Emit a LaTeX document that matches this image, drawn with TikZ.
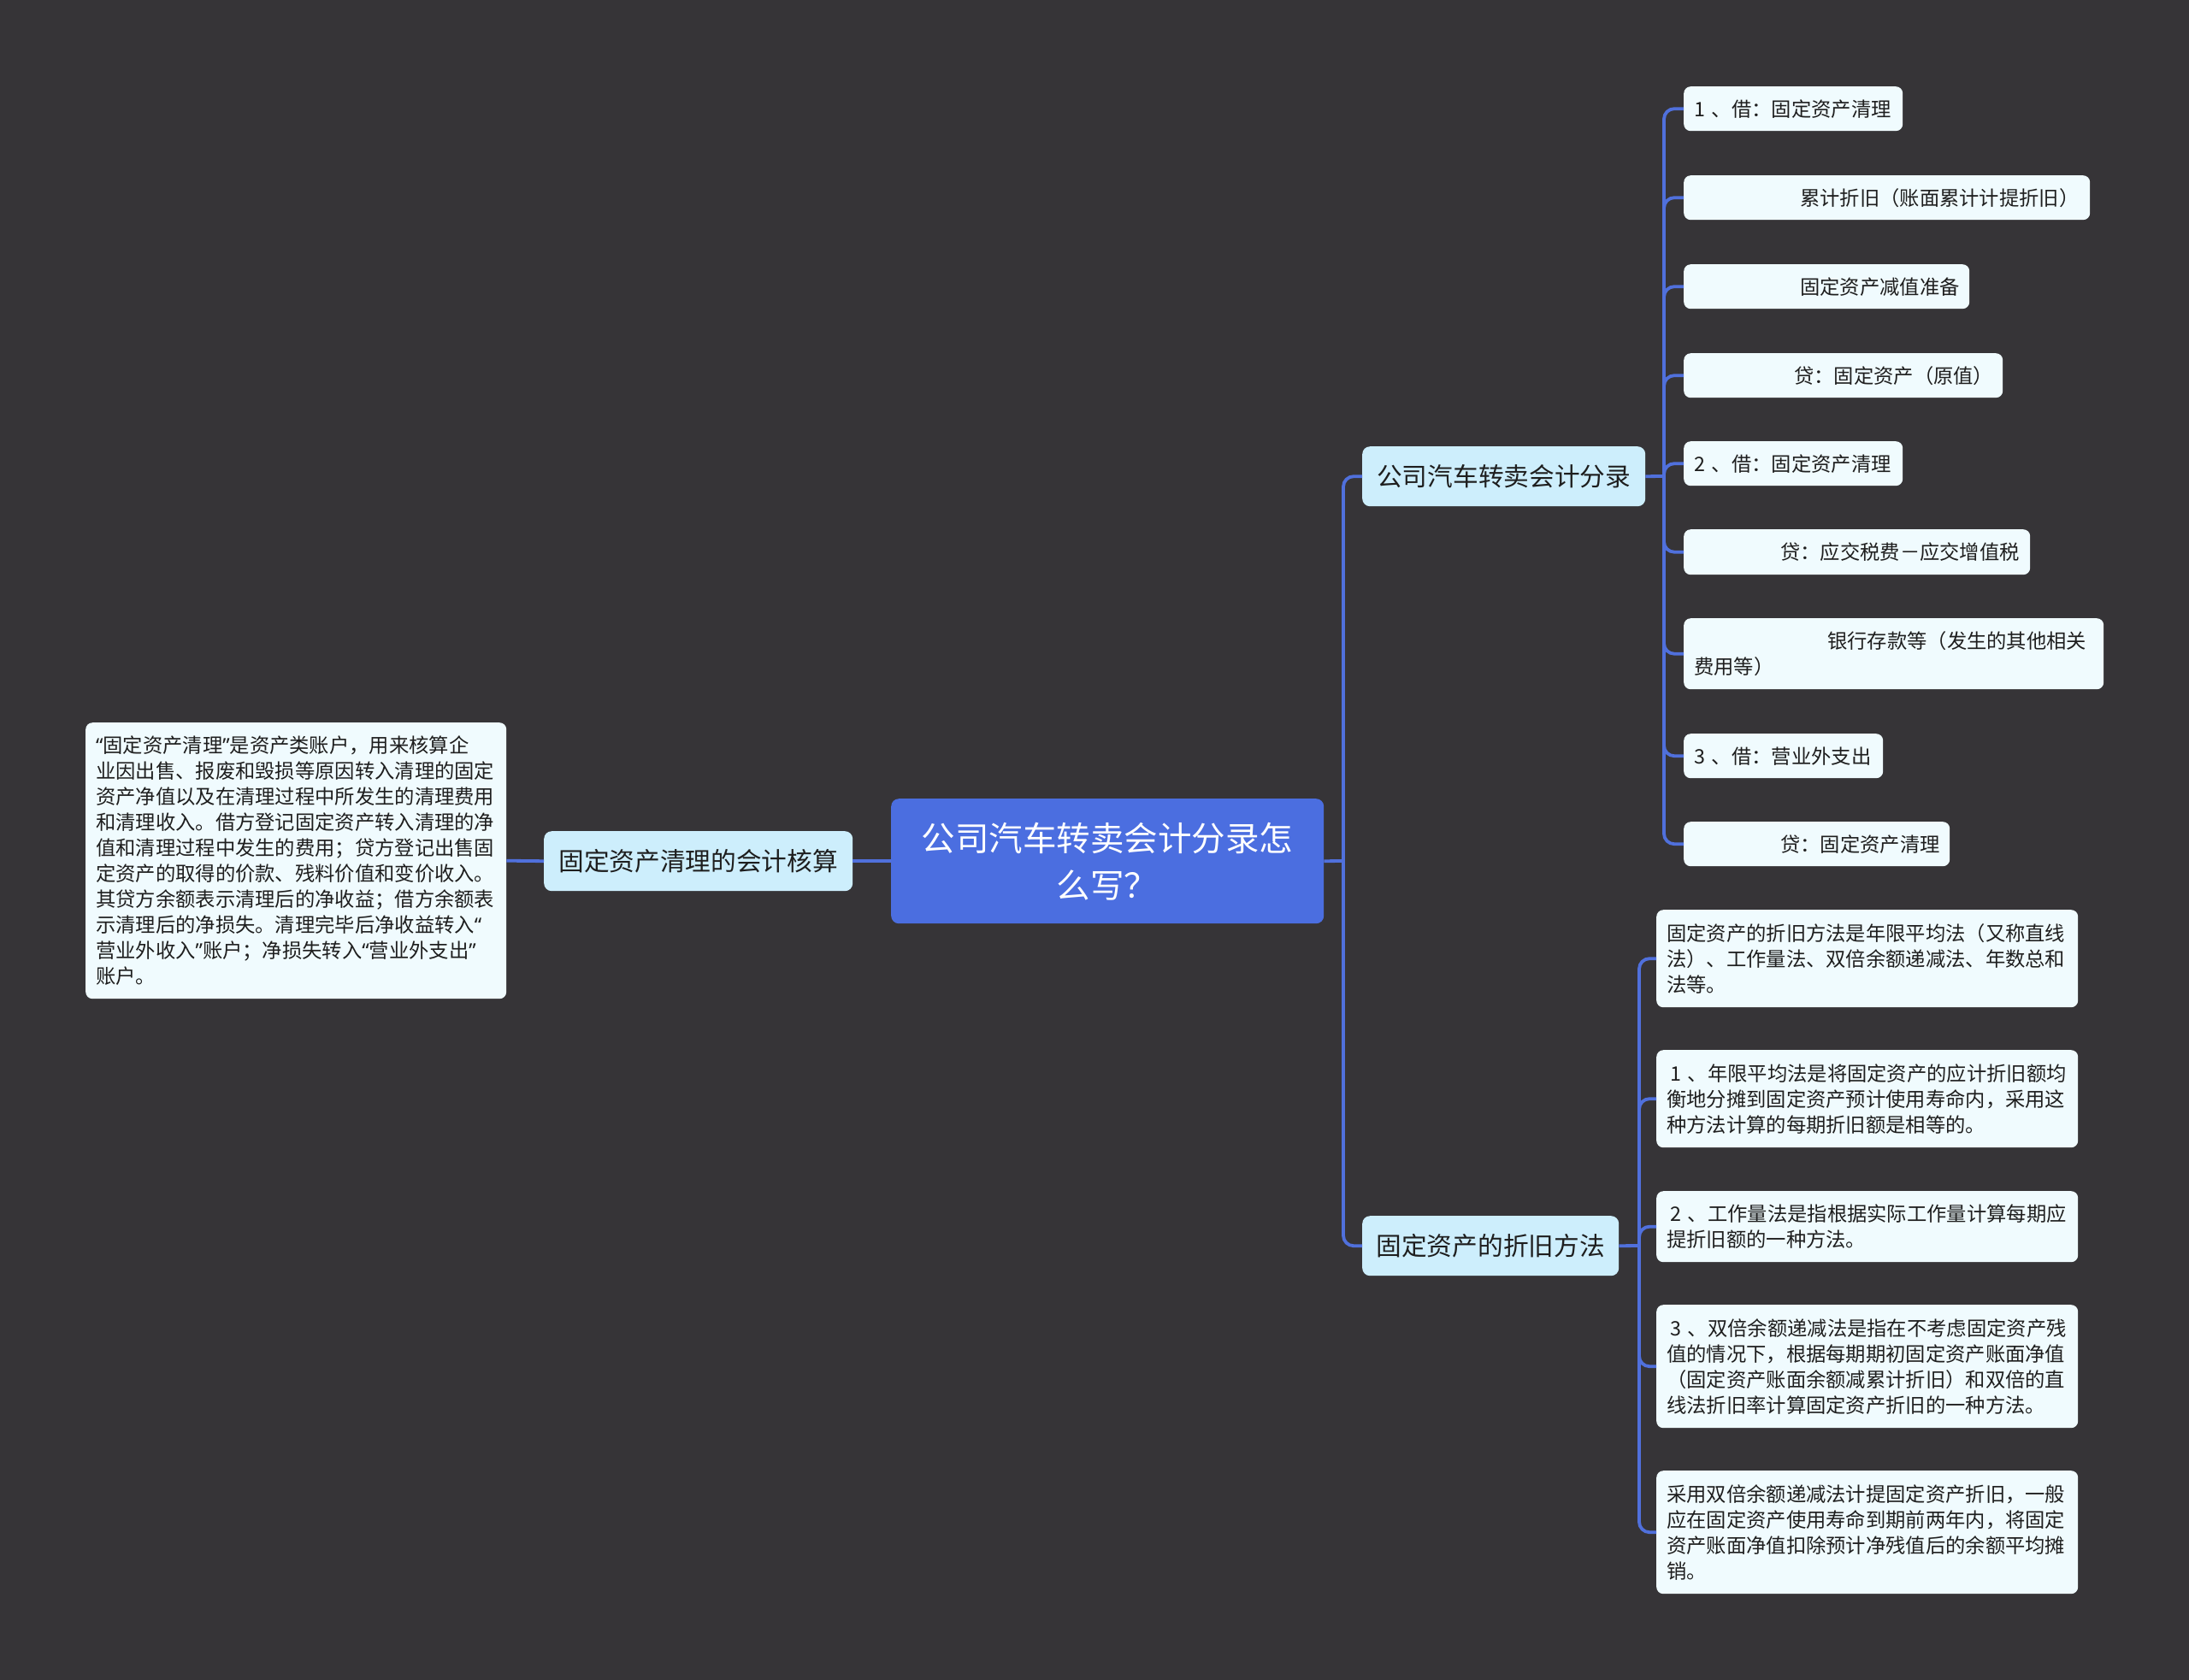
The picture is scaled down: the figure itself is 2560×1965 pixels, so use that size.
\documentclass[tikz,border=0pt]{standalone}
\usepackage{fontspec}
\newfontfamily\cjk{Noto Sans CJK SC}
\newfontfamily\lat{Noto Sans}
\newcommand{\qopen}{{\lat “}}
\newcommand{\qclose}{{\lat ”}}
\definecolor{bgc}{HTML}{363437}
\definecolor{rootc}{HTML}{4B6EE0}
\definecolor{branchc}{HTML}{CDEEFC}
\definecolor{leafc}{HTML}{F0FBFE}
\definecolor{linec}{HTML}{5070DC}
\definecolor{textc}{HTML}{1E1E1E}
\tikzset{
  conn/.style={draw=linec, line width=3.8pt},
  elbow/.style={conn, rounded corners=12pt},
  rootbox/.style={fill=rootc, rounded corners=9pt, text=white, align=center, inner sep=0pt,
    font=\cjk\fontsize{39.5}{55}\selectfont},
  branchbox/.style={fill=branchc, rounded corners=9pt, text=textc, inner sep=0pt,
    font=\cjk\fontsize{29.7}{36}\selectfont},
  leafbox/.style={fill=leafc, rounded corners=8pt, text=textc, align=left, inner xsep=12pt, inner ysep=0pt,
    anchor=north west, font=\cjk\fontsize{23.3}{30}\selectfont},
}
\begin{document}
\begin{tikzpicture}[x=1pt, y=-1pt]
\useasboundingbox (0,0) rectangle (2560,1965);
\fill[bgc] (0,0) rectangle (2560,1965);

% root
\node[rootbox, anchor=north west, minimum width=506pt, minimum height=146pt] (root) at (1042,934)
  {公司汽车转卖会计分录怎\\么写？};

% branches
\node[branchbox, anchor=north west, minimum width=331pt, minimum height=70pt] (b1) at (1593,522) {公司汽车转卖会计分录};
\node[branchbox, anchor=north west, minimum width=300pt, minimum height=70pt] (b2) at (1593,1422) {固定资产的折旧方法};
\node[branchbox, anchor=north west, minimum width=361pt, minimum height=70pt] (b3) at (636,972) {固定资产清理的会计核算};

% left leaf
\node[leafbox, minimum width=492pt, minimum height=323pt, text width=468pt] (ll) at (100,845)
  {\qopen 固定资产清理\qclose 是资产类账户，用来核算企\\
   业因出售、报废和毁损等原因转入清理的固定\\
   资产净值以及在清理过程中所发生的清理费用\\
   和清理收入。借方登记固定资产转入清理的净\\
   值和清理过程中发生的费用；贷方登记出售固\\
   定资产的取得的价款、残料价值和变价收入。\\
   其贷方余额表示清理后的净收益；借方余额表\\
   示清理后的净损失。清理完毕后净收益转入\qopen\\
   营业外收入\qclose 账户；净损失转入\qopen 营业外支出\qclose\\
   账户。};

% branch 1 leaves
\node[leafbox, minimum width=256pt, minimum height=52pt, text width=232pt] (a1) at (1969,101) {1 、借：固定资产清理};
\node[leafbox, minimum width=475pt, minimum height=52pt, text width=451pt] (a2) at (1969,205) {\hspace*{124pt}累计折旧（账面累计计提折旧）};
\node[leafbox, minimum width=334pt, minimum height=52pt, text width=310pt] (a3) at (1969,309) {\hspace*{124pt}固定资产减值准备};
\node[leafbox, minimum width=373pt, minimum height=52pt, text width=349pt] (a4) at (1969,413) {\hspace*{117pt}贷：固定资产（原值）};
\node[leafbox, minimum width=256pt, minimum height=52pt, text width=232pt] (a5) at (1969,516) {2 、借：固定资产清理};
\node[leafbox, minimum width=405pt, minimum height=53pt, text width=381pt] (a6) at (1969,619) {\hspace*{101pt}贷：应交税费－应交增值税};
\node[leafbox, minimum width=491pt, minimum height=83pt, text width=467pt] (a7) at (1969,723) {\hspace*{156pt}银行存款等（发生的其他相关\\费用等）};
\node[leafbox, minimum width=233pt, minimum height=52pt, text width=209pt] (a8) at (1969,858) {3 、借：营业外支出};
\node[leafbox, minimum width=311pt, minimum height=52pt, text width=287pt] (a9) at (1969,961) {\hspace*{101pt}贷：固定资产清理};

% branch 2 leaves
\node[leafbox, minimum width=493pt, minimum height=114pt, text width=469pt] (c1) at (1937,1064)
  {固定资产的折旧方法是年限平均法（又称直线\\法）、工作量法、双倍余额递减法、年数总和\\法等。};
\node[leafbox, minimum width=493pt, minimum height=114pt, text width=469pt] (c2) at (1937,1228)
  {\hspace*{4pt}1 、年限平均法是将固定资产的应计折旧额均\\衡地分摊到固定资产预计使用寿命内，采用这\\种方法计算的每期折旧额是相等的。};
\node[leafbox, minimum width=493pt, minimum height=83pt, text width=469pt] (c3) at (1937,1393)
  {\hspace*{4pt}2 、工作量法是指根据实际工作量计算每期应\\提折旧额的一种方法。};
\node[leafbox, minimum width=493pt, minimum height=144pt, text width=469pt] (c4) at (1937,1526)
  {\hspace*{4pt}3 、双倍余额递减法是指在不考虑固定资产残\\值的情况下，根据每期期初固定资产账面净值\\（固定资产账面余额减累计折旧）和双倍的直\\线法折旧率计算固定资产折旧的一种方法。};
\node[leafbox, minimum width=493pt, minimum height=144pt, text width=469pt] (c5) at (1937,1720)
  {采用双倍余额递减法计提固定资产折旧，一般\\应在固定资产使用寿命到期前两年内，将固定\\资产账面净值扣除预计净残值后的余额平均摊\\销。};

% junctions
\coordinate (j0) at (1571,1007);
\coordinate (j1) at (1946,557);
\coordinate (j2) at (1917,1457);

% connectors
\draw[conn] (root.east) -- (j0);
\draw[elbow] (j0) |- (b1.west);
\draw[elbow] (j0) |- (b2.west);
\draw[conn] (root.west) -- (b3.east);
\draw[conn] (b3.west) -- (ll.east);
\draw[conn] (b1.east) -- (j1);
\foreach \n in {a1,a2,a3,a4,a5,a6,a7,a8,a9} { \draw[elbow] (j1) |- (\n.west); }
\draw[conn] (b2.east) -- (j2);
\foreach \n in {c1,c2,c3,c4,c5} { \draw[elbow] (j2) |- (\n.west); }
\end{tikzpicture}
\end{document}
